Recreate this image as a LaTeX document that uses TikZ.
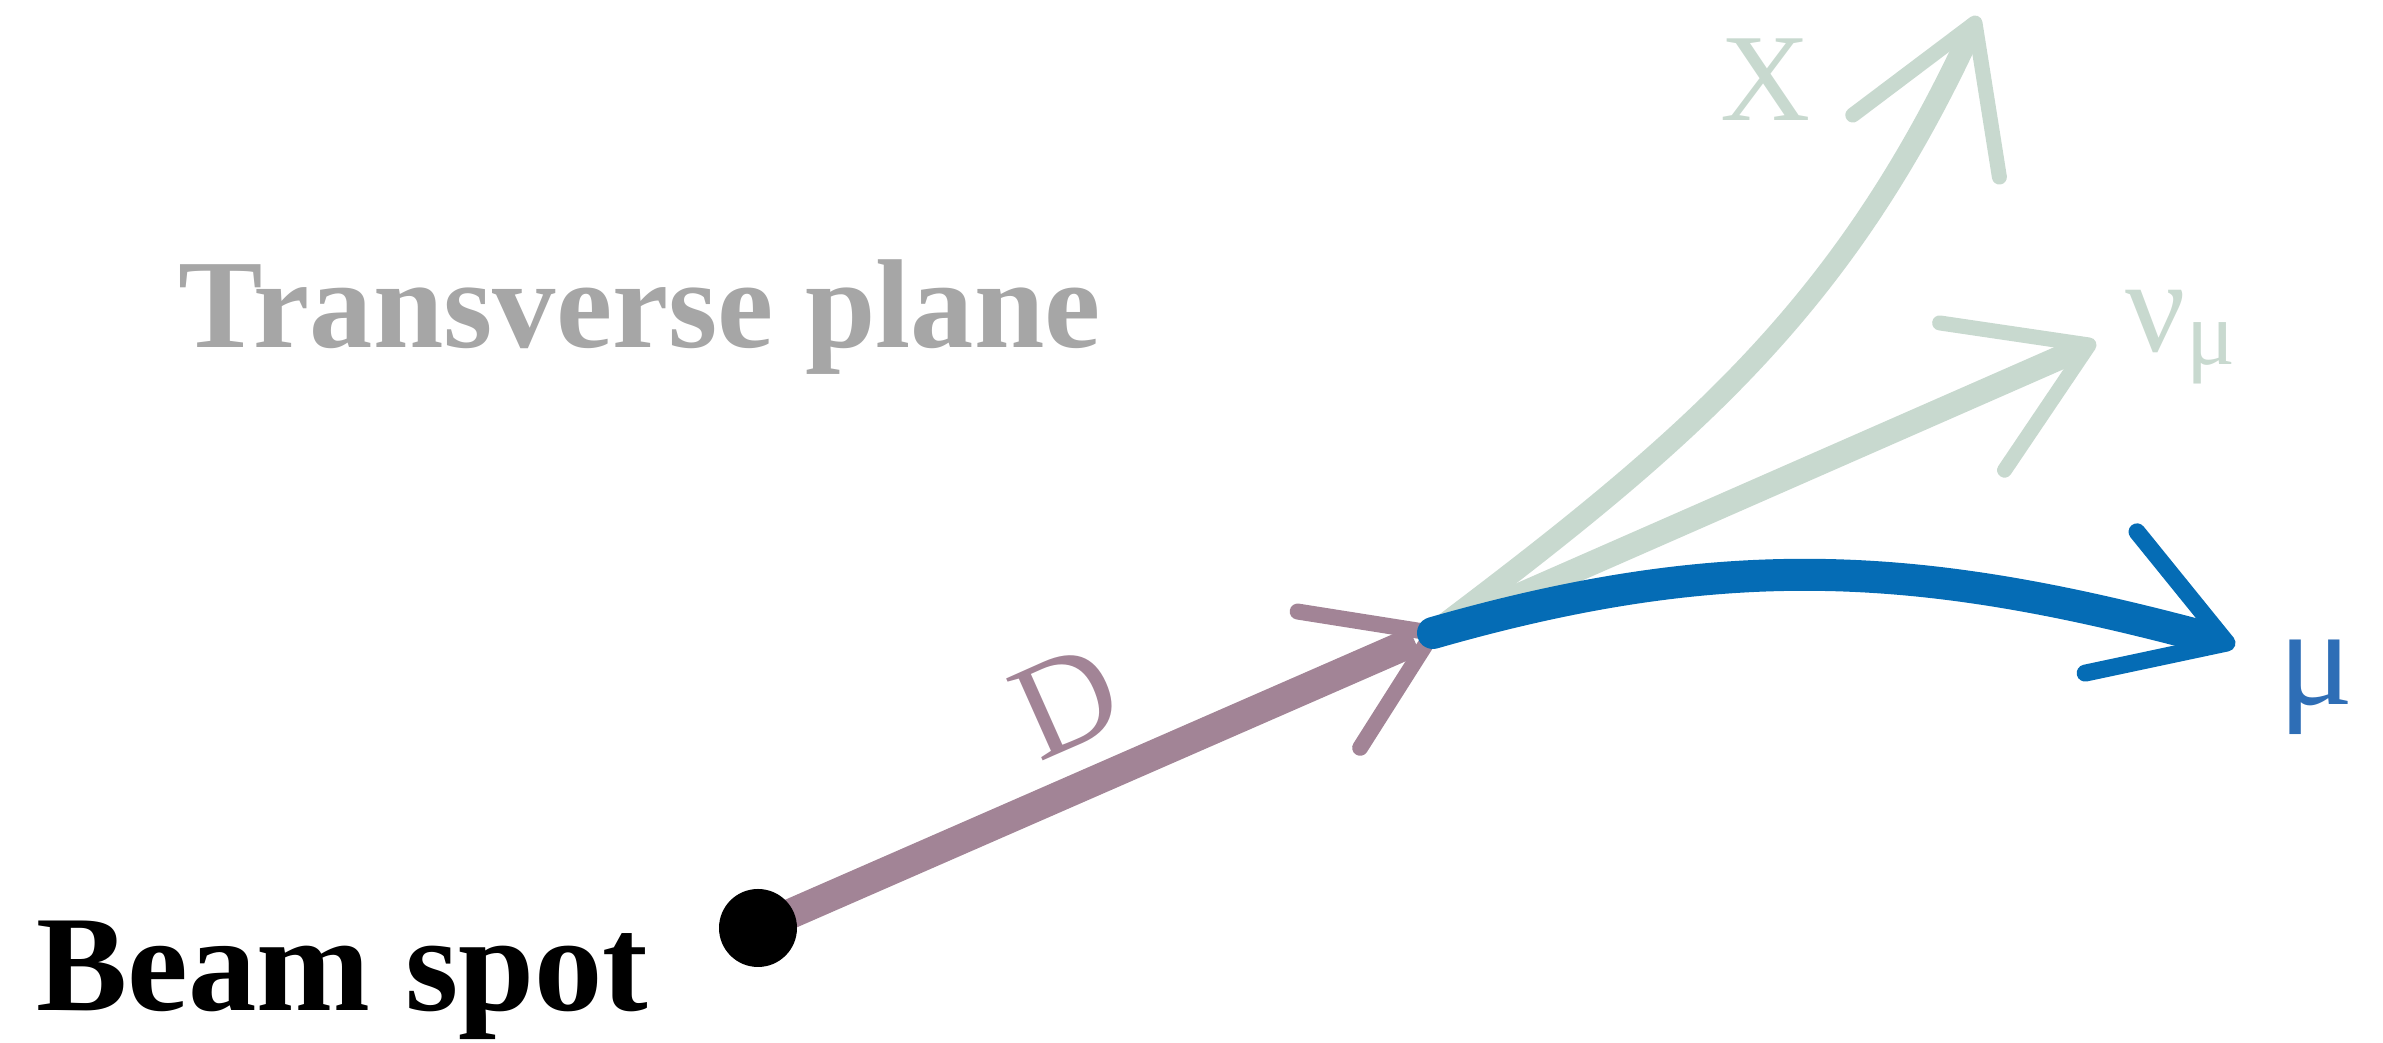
\documentclass[tikz,border=0pt]{standalone}
\usepackage{fontspec}
\setmainfont{Liberation Serif}
\usetikzlibrary{positioning,calc}
\definecolor{dcolor}{RGB}{162,132,150}
\definecolor{nucolor}{RGB}{200,217,207}
\definecolor{mucolor}{RGB}{5,108,181}
\definecolor{mutext}{RGB}{46,110,182}
\definecolor{planegray}{RGB}{166,166,166}

\begin{document}
\begin{tikzpicture}[
  track/.style={draw=#1, line cap=round},
  barb/.style={draw=#1, line cap=round, line join=round},
  lbl/.style={inner sep=0pt, text=#1}]
  \useasboundingbox (0,0) rectangle (23.83,10.43);

  \coordinate (spot)  at (7.58,1.15);
  \coordinate (apex)  at (14.33,4.10);
  \coordinate (xtip)  at (19.75,10.20);
  \coordinate (nutip) at (20.89,6.98);
  \coordinate (mutip) at (22.27,4.00);

  % invisible daughters
  \draw[track=nucolor, line width=0.22cm, shorten >=0.15cm] (apex) to[out=37,in=245] (xtip);
  \draw[barb=nucolor, line width=0.15cm] ([shift={(217:1.53)}]xtip) -- (xtip) -- ([shift={(279:1.56)}]xtip);
  \draw[track=nucolor, line width=0.24cm, shorten >=0.2cm] (apex) -- (nutip);
  \draw[barb=nucolor, line width=0.15cm] ([shift={(171.6:1.51)}]nutip) -- (nutip) -- ([shift={(236:1.51)}]nutip);

  % flight of the D
  \draw[dcolor, line width=0.30cm, shorten >=0.2cm] (spot) -- (apex);
  \draw[barb=dcolor, line width=0.16cm] ([shift={(171:1.37)}]apex) -- (apex) -- ([shift={(237.6:1.36)}]apex);
  \node[circle, fill=black, minimum size=0.78cm, inner sep=0pt] (beam) at (spot) {};

  % muon
  \draw[track=mucolor, line width=0.32cm, shorten >=0.2cm] (apex) to[out=16,in=165] (mutip);
  \draw[barb=mucolor, line width=0.17cm] ([shift={(129:1.43)}]mutip) -- (mutip) -- ([shift={(192:1.45)}]mutip);

  % labels
  \node[lbl=black, font=\fontsize{38.9}{41}\selectfont\bfseries, anchor=base west] (spotlabel) at (0.36,0.32) {Beam spot};
  \node[lbl=planegray, font=\fontsize{36}{39}\selectfont\bfseries, anchor=base west] (plane) at (1.78,6.95) {Transverse plane};
  \node[lbl=dcolor, font=\fontsize{39}{42}\selectfont, rotate=24] (dlabel) at (10.67,3.41) {D};
  \node[lbl=nucolor, font=\fontsize{35.5}{38}\selectfont] (xlabel) at (17.66,9.63) {X};
  \node[lbl=nucolor, font=\fontsize{38}{40}\selectfont, anchor=base west] (nulabel) at (21.25,6.91)
       {ν\raisebox{-0.13cm}{\fontsize{26}{28}\selectfont μ}};
  \node[lbl=mutext, font=\fontsize{40}{42}\selectfont, anchor=base west] (mulabel) at (22.78,3.38) {μ};
\end{tikzpicture}
\end{document}
